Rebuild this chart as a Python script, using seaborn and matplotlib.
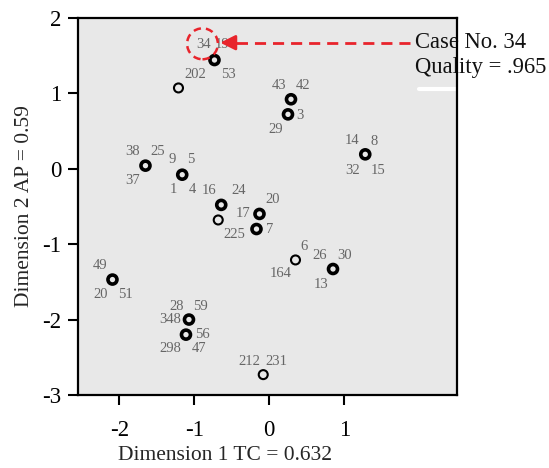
import matplotlib
matplotlib.use("Agg")
import matplotlib.pyplot as plt
import matplotlib.patches as mpatches
import seaborn as sns
import pandas as pd

# ---- data ----
dim1 = [-0.73, -1.21, 0.29, 0.25, 1.28, -1.65, -1.16, -0.64, -0.68, -0.13,
        -0.17, 0.35, 0.85, -2.09, -1.07, -1.11, -0.08]
dim2 = [1.44, 1.07, 0.92, 0.72, 0.19, 0.04, -0.08, -0.48, -0.68, -0.60,
        -0.80, -1.21, -1.33, -1.47, -2.00, -2.20, -2.73]
weight = ["thick", "thin", "thick", "thick", "thick", "thick", "thick", "thick", "thin", "thick",
          "thick", "thin", "thick", "thick", "thick", "thick", "thin"]
case_labels = [
    ["34", "19", "53"], ["202"], ["43", "42"], ["3", "29"], ["14", "8", "32", "15"],
    ["38", "25", "37"], ["9", "5", "1", "4"], ["16", "24"], ["225"], ["17", "20"],
    ["7"], ["6", "164"], ["26", "30", "13"], ["49", "20", "51"],
    ["28", "59", "348"], ["56", "298", "47"], ["212", "231"],
]
# label placement (pixel offsets from point)
label_offsets = [
    [(-11, 16), (8, 16), (14, -14)], [(17, 13)], [(-12, 14), (12, 14)], [(12, -1), (-12, -15)],
    [(-13, 14), (9, 13), (-13, -16), (13, -16)],
    [(-13, 14), (12, 14), (-13, -15)], [(-10, 15), (9, 15), (-9, -15), (10, -15)],
    [(-12, 14), (17, 14)], [(16, -15)], [(-16, 0), (13, 14)],
    [(13, 0)], [(9, 13), (-15, -14)], [(-13, 14), (12, 14), (-12, -15)],
    [(-12, 14), (-12, -15), (13, -15)],
    [(-12, 13), (11, 13), (-19, 0)], [(16, 0), (-16, -14), (13, -14)], [(-14, 13), (13, 13)],
]
x_ticks = [-2, -1, 0, 1]
y_ticks = [-3, -2, -1, 0, 1, 2]
x_title = "Dimension 1 TC = 0.632"
y_title = "Dimension 2 AP = 0.59"
note_lines = ["Case No. 34", "Quality = .965"]

df = pd.DataFrame({"dim1": dim1, "dim2": dim2, "weight": weight})

sns.set_style("white")
plt.rcParams["font.family"] = ["Liberation Serif", "DejaVu Serif"]

fig = plt.figure(figsize=(5.49, 4.68), dpi=100)
ax = fig.add_axes([0.142, 0.156, 0.690, 0.806])
ax.set_facecolor("#e8e8e8")

for w, lw in [("thick", 2.6), ("thin", 1.5)]:
    sub = df[df["weight"] == w]
    sns.scatterplot(data=sub, x="dim1", y="dim2", ax=ax, marker="o", s=42,
                    facecolor="none", edgecolor="black", linewidth=lw, zorder=3)

for x, y, labs, offs in zip(dim1, dim2, case_labels, label_offsets):
    for lab, (dx, dy) in zip(labs, offs):
        ax.annotate(lab, (x, y), xytext=(dx, dy), textcoords="offset pixels",
                    ha="center", va="center", fontsize=10.5, color="#666666", zorder=4)

ax.set_xlim(-2.55, 2.5)
ax.set_ylim(-3, 2)
ax.set_xticks(x_ticks)
ax.set_yticks(y_ticks)
ax.set_xticklabels([str(t) for t in x_ticks])
ax.set_yticklabels([str(t) for t in y_ticks])
ax.tick_params(axis="both", direction="out", length=7, width=1.5, labelsize=16.5,
               left=True, bottom=True, colors="black", pad=5)
ax.tick_params(axis="x", pad=11)
for sp in ax.spines.values():
    sp.set_linewidth(1.6)
    sp.set_color("black")
    sp.set_zorder(8)

ax.set_xlabel(x_title, fontsize=15.5)
ax.xaxis.set_label_coords(0.388, -0.135)
ax.set_ylabel(y_title, fontsize=15.5, labelpad=6)

red = "#e8242c"
# dashed circle around case 34
circ = mpatches.Ellipse((-0.89, 1.655), 0.41, 0.41, fill=False, edgecolor=red,
                        linestyle=(0, (3, 2)), linewidth=1.8, zorder=5)
ax.add_patch(circ)
# dashed arrow
ax.plot([1.88, -0.52], [1.67, 1.67], color=red, linestyle=(0, (4, 2.5)), linewidth=2, zorder=5,
        clip_on=False)
ax.annotate("", xy=(-0.69, 1.67), xytext=(-0.50, 1.67),
            arrowprops=dict(arrowstyle="-|>,head_length=0.9,head_width=0.45", color=red, lw=2),
            zorder=5)
# white stroke
ax.plot([1.99, 2.49], [1.05, 1.05], color="white", linewidth=3, zorder=5, clip_on=False)

ax.text(1.94, 1.67, note_lines[0], fontsize=16.3, va="center", ha="left", color="#111111",
        clip_on=False, zorder=7)
ax.text(1.94, 1.34, note_lines[1], fontsize=16.3, va="center", ha="left", color="#111111",
        clip_on=False, zorder=7)

fig.savefig("out.png", dpi=100)
